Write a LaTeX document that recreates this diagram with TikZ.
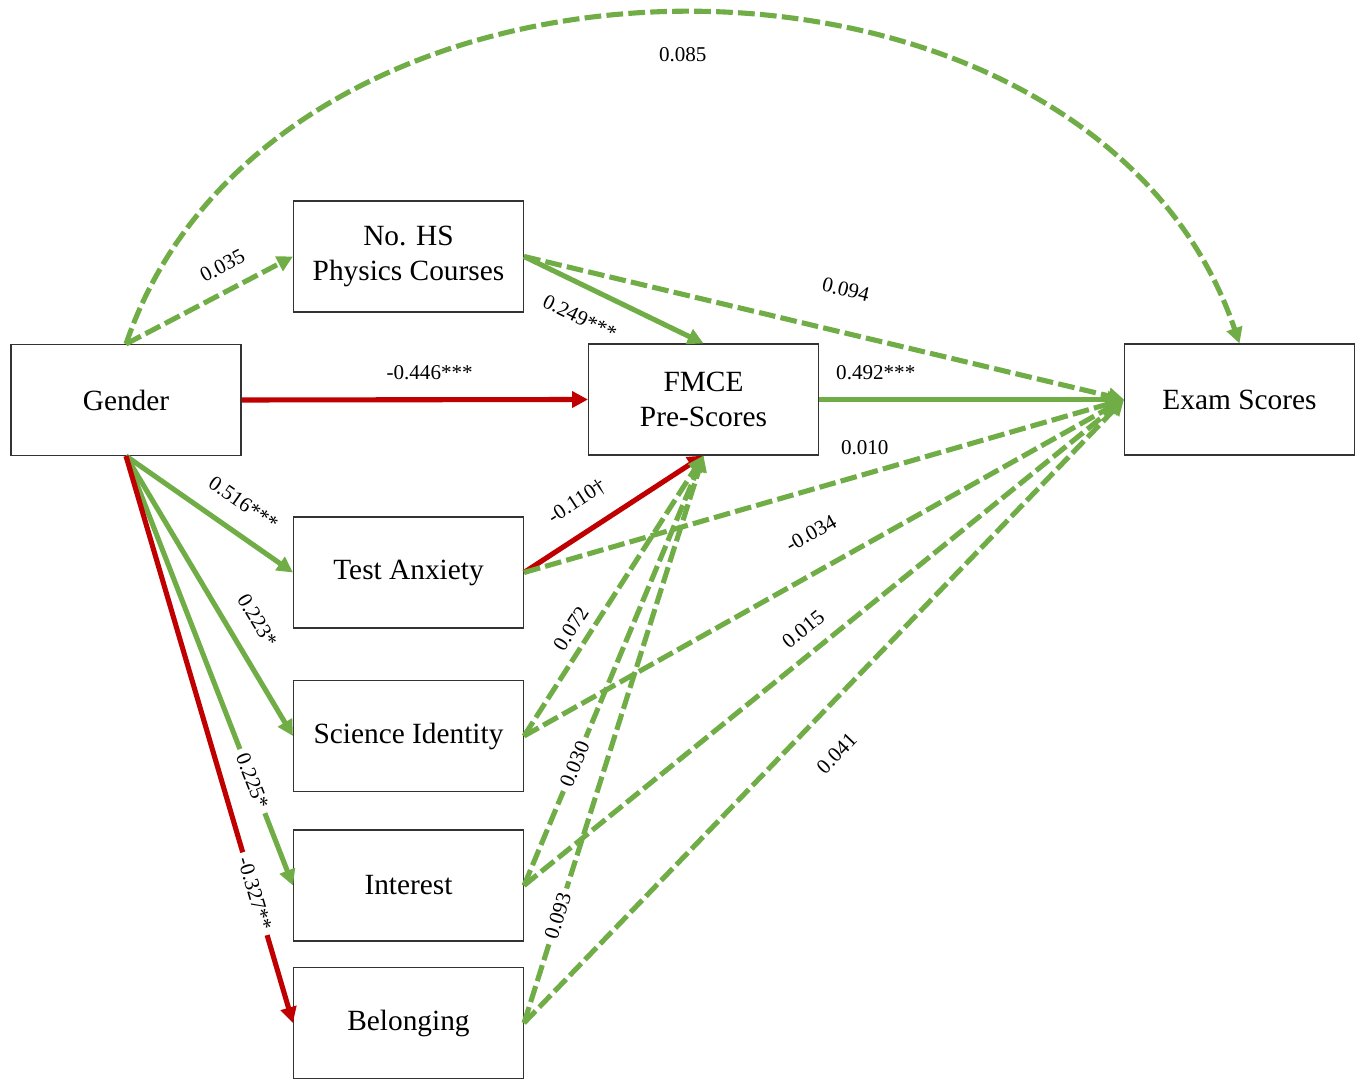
\documentclass[tikz,border=0pt]{standalone}
\usepackage{fontspec}
\setmainfont{Liberation Serif}
\usetikzlibrary{arrows.meta}
\definecolor{pathgreen}{RGB}{112,173,71}
\definecolor{pathred}{RGB}{192,0,0}

\begin{document}
\begin{tikzpicture}[
  var/.style={draw=black!80, line width=0.6pt, minimum width=4.6cm, minimum height=2.22cm, align=center, font=\fontsize{16.7}{20}\selectfont},
  coef/.style={font=\fontsize{12}{14}\selectfont, inner sep=1pt},
  cut/.style={coef, fill=white, inner sep=3pt},
  posfx/.style={draw=pathgreen, line width=2.9pt, -{Triangle[length=9pt,width=9pt]}},
  negfx/.style={posfx, draw=pathred},
  nsfx/.style={posfx, dash pattern=on 9.5pt off 3pt},
]
\useasboundingbox (0,0) rectangle (27.16,21.56);

%the variables
\node [var] (gender) at (2.52,13.56) {Gender};
\node [var] (nohs) at (8.17,16.43) {No. HS\\Physics Courses};
\node [var] (fmce) at (14.07,13.57) {FMCE\\Pre-Scores};
\node [var] (exam) at (24.79,13.57) {Exam Scores};
\node [var] (anx) at (8.17,10.11) {Test Anxiety};
\node [var] (sci) at (8.17,6.84) {Science Identity};
\node [var] (interest) at (8.17,3.85) {Interest};
\node [var] (belong) at (8.17,1.10) {Belonging};

%paths from gender
\draw [nsfx] (gender.north) .. controls +(3,8.82) and +(-3,8.82) .. node [coef, below=0.6cm] {0.085} (exam.north);
\draw [nsfx] (gender.north) -- node [coef, pos=0.645, sloped, above=0.26cm] {0.035} (nohs.west);
\draw [negfx] (gender.east) -- node [coef, pos=0.543, above=0.32cm] {-0.446***} (fmce.west);
\draw [posfx] (gender.south) -- node [coef, pos=0.606, sloped, above=0.34cm] {0.516***} (anx.west);
\draw [posfx] (gender.south) -- node [coef, pos=0.64, sloped, above=0.34cm] {0.223*} (sci.west);
\draw [posfx] (gender.south) -- node [cut, pos=0.757, sloped] {0.225*} (interest.west);
\draw [negfx] (gender.south) -- node [cut, pos=0.772, sloped] {-0.327**} (belong.west);

%paths to fmce
\draw [posfx] (nohs.east) -- node [coef, pos=0.385, sloped, below=0.38cm] {0.249***} (fmce.north);
\draw [negfx] (anx.east) -- node [coef, pos=0.387, sloped, above=0.35cm] {-0.110\textdagger} (fmce.south);
\draw [nsfx] (sci.east) -- node [coef, pos=0.348, sloped, above=0.14cm] {0.072} (fmce.south);
\draw [nsfx] (interest.east) -- node [cut, pos=0.282, sloped] {0.030} (fmce.south);
\draw [nsfx] (belong.east) -- node [cut, pos=0.188, sloped] {0.093} (fmce.south);

%paths to exam
\draw [nsfx] (nohs.east) -- node [coef, pos=0.52, sloped, above=0.62cm] {0.094} (exam.west);
\draw [posfx] (fmce.east) -- node [coef, pos=0.186, above=0.3cm] {0.492***} (exam.west);
\draw [nsfx] (anx.east) -- node [coef, pos=0.568, above=0.3cm] {0.010} (exam.west);
\draw [nsfx] (sci.east) -- node [coef, pos=0.508, sloped, above=0.5cm] {-0.034} (exam.west);
\draw [nsfx] (interest.east) -- node [coef, pos=0.49, sloped, above=0.24cm] {0.015} (exam.west);
\draw [nsfx] (belong.east) -- node [coef, pos=0.475, sloped, below=0.54cm] {0.041} (exam.west);
\end{tikzpicture}
\end{document}
